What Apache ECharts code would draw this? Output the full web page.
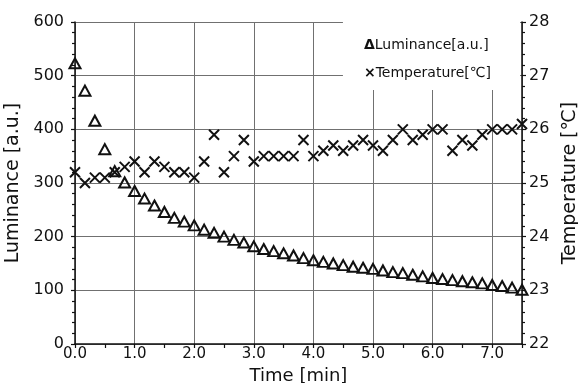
<!DOCTYPE html>
<html>
<head>
<meta charset="utf-8">
<script src="https://cdn.jsdelivr.net/npm/echarts@6/dist/echarts.min.js"></script>
<style>
html,body{margin:0;padding:0;background:#fff;}
#chart{width:578px;height:383px;}
</style>
</head>
<body>
<div id="chart"></div>
<script>
// Sampling times in seconds (every 10 s)
const timeSec = [0,10,20,30,40,50,60,70,80,90,100,110,120,130,140,150,160,170,180,190,200,210,220,230,240,250,260,270,280,290,300,310,320,330,340,350,360,370,380,390,400,410,420,430,440,450];
// Luminance [a.u.] (left axis)
const luminance = [523,472,416,363,322,301,285,271,258,246,235,228,221,213,207,200,194,189,182,177,173,169,165,160,156,153,150,147,144,142,140,137,134,132,129,126,123,121,119,117,115,113,110,108,105,101];
// Temperature [℃] (right axis)
const temperature = [25.2,25.0,25.1,25.1,25.2,25.3,25.4,25.2,25.4,25.3,25.2,25.2,25.1,25.4,25.9,25.2,25.5,25.8,25.4,25.5,25.5,25.5,25.5,25.8,25.5,25.6,25.7,25.6,25.7,25.8,25.7,25.6,25.8,26.0,25.8,25.9,26.0,26.0,25.6,25.8,25.7,25.9,26.0,26.0,26.0,26.1];
const xTicks = ['0.0','1.0','2.0','3.0','4.0','5.0','6.0','7.0'];
const leftTicks = ['0','100','200','300','400','500','600'];
const rightTicks = ['22','23','24','25','26','27','28'];

const FONT = 'DejaVu Sans';
const ink = '#111';
const lumData = timeSec.map((s, i) => [s / 60, luminance[i]]);
const tempData = timeSec.map((s, i) => [s / 60, temperature[i]]);

const chart = echarts.init(document.getElementById('chart'), null, {renderer: 'canvas'});
chart.setOption({
  animation: false,
  backgroundColor: '#fff',
  grid: {left: 75, right: 56, top: 22, bottom: 39, containLabel: false, outerBoundsMode: 'none'},
  legend: {
    orient: 'vertical',
    right: 58, top: 22,
    backgroundColor: '#fff',
    padding: [16, 29, 10, 16],
    itemGap: 14,
    icon: 'none',
    itemWidth: 0,
    itemHeight: 10,
    data: ['Luminance[a.u.]', 'Temperature[℃]'],
    formatter: function (name) {
      return (name === 'Luminance[a.u.]' ? '{s|Δ}' : '{s|×}') + name;
    },
    textStyle: {
      fontFamily: FONT, fontSize: 14, color: ink,
      rich: { s: {fontFamily: FONT, fontSize: 14, fontWeight: 'bold', color: ink} }
    }
  },
  xAxis: {
    type: 'value',
    min: 0, max: 7.5, interval: 1,
    name: 'Time [min]',
    nameLocation: 'middle',
    nameGap: 15,
    nameTextStyle: {fontFamily: FONT, fontSize: 18, color: ink},
    axisLine: {show: true, onZero: false, lineStyle: {color: ink, width: 1.5}},
    axisTick: {show: true, length: 4, lineStyle: {color: ink, width: 1.2}},
    minorTick: {show: true, splitNumber: 2, length: 4, lineStyle: {color: ink, width: 1.2}},
    axisLabel: {
      margin: 3, fontFamily: FONT, fontSize: 15, color: ink,
      formatter: function (v) {
        const idx = Math.round(v);
        return (Math.abs(v - idx) < 1e-6 && idx < xTicks.length) ? xTicks[idx] : '';
      }
    },
    splitLine: {show: true, lineStyle: {color: '#707070', width: 1}}
  },
  yAxis: [
    {
      type: 'value', min: 0, max: 600, interval: 100, position: 'left',
      name: 'Luminance [a.u.]', nameLocation: 'middle', nameGap: 40,
      nameTextStyle: {fontFamily: FONT, fontSize: 19, color: ink},
      axisLine: {show: true, lineStyle: {color: ink, width: 1.5}},
      axisTick: {show: true, length: 4, lineStyle: {color: ink, width: 1.2}},
      minorTick: {show: true, splitNumber: 5, length: 3, lineStyle: {color: ink, width: 1.2}},
      axisLabel: {
        margin: 11, fontFamily: FONT, fontSize: 16, color: ink,
        formatter: function (v) { return leftTicks[Math.round(v / 100)] || ''; }
      },
      splitLine: {show: true, lineStyle: {color: '#707070', width: 1}}
    },
    {
      type: 'value', min: 22, max: 28, interval: 1, position: 'right',
      name: 'Temperature [℃]', nameLocation: 'middle', nameGap: 32,
      nameTextStyle: {fontFamily: FONT, fontSize: 19, color: ink},
      axisLine: {show: true, lineStyle: {color: ink, width: 1.5}},
      axisTick: {show: true, length: 4, lineStyle: {color: ink, width: 1.2}},
      minorTick: {show: true, splitNumber: 5, length: 3, lineStyle: {color: ink, width: 1.2}},
      axisLabel: {
        margin: 7, fontFamily: FONT, fontSize: 16, color: ink,
        formatter: function (v) { return rightTicks[Math.round(v - 22)] || ''; }
      },
      splitLine: {show: false}
    }
  ],
  series: [
    {
      name: 'Luminance[a.u.]',
      type: 'scatter',
      yAxisIndex: 0,
      data: lumData,
      symbol: 'triangle',
      symbolSize: [11, 10],
      itemStyle: {color: 'transparent', borderColor: ink, borderWidth: 2, opacity: 1},
      z: 3
    },
    {
      name: 'Temperature[℃]',
      type: 'scatter',
      yAxisIndex: 1,
      data: tempData,
      symbol: 'path://M0,0L10,10M10,0L0,10',
      symbolSize: [10, 10],
      itemStyle: {color: 'transparent', borderColor: ink, borderWidth: 2, opacity: 1},
      z: 3
    }
  ]
});
</script>
</body>
</html>
